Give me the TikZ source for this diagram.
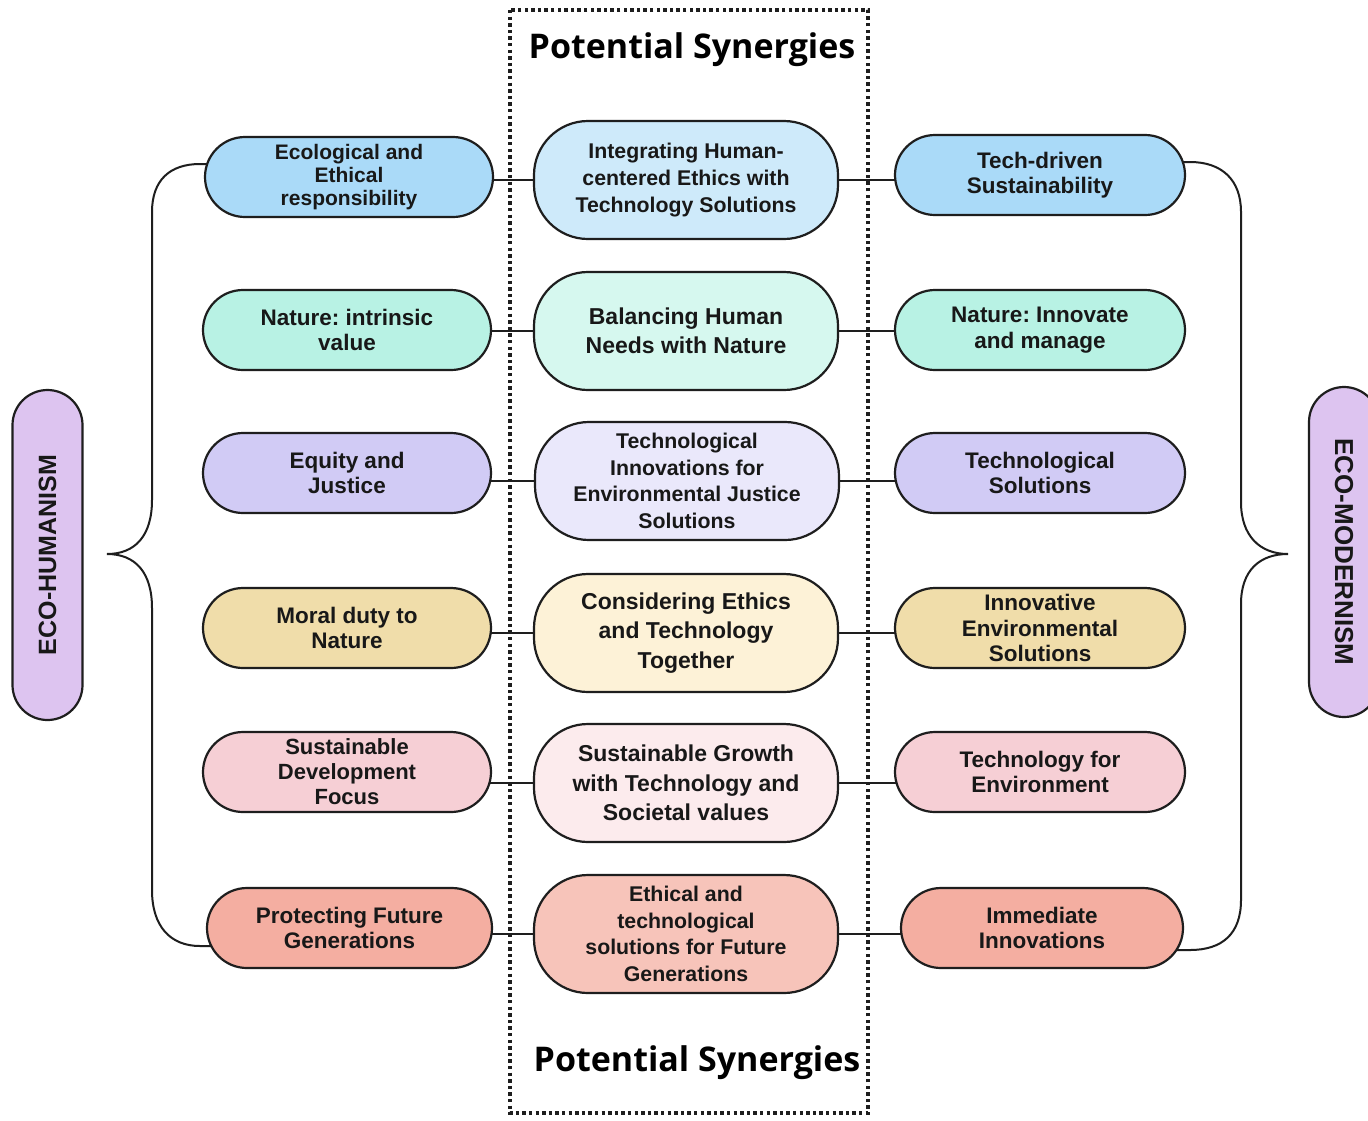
\documentclass[tikz,border=0pt]{standalone}
\usepackage{fontspec}
\setmainfont{Liberation Sans}
\newfontfamily\titlefont{Open Sans}
\usetikzlibrary{calc}
\pgfdeclarelayer{bg}
\pgfsetlayers{bg,main}
\frenchspacing
\definecolor{linec}{RGB}{30,30,30}
\definecolor{txt}{RGB}{24,24,24}
\definecolor{cAs}{RGB}{170,218,248}
\definecolor{cAm}{RGB}{206,234,250}
\definecolor{cBs}{RGB}{184,242,228}
\definecolor{cBm}{RGB}{214,248,239}
\definecolor{cCs}{RGB}{209,203,245}
\definecolor{cCm}{RGB}{234,232,251}
\definecolor{cDs}{RGB}{240,221,170}
\definecolor{cDm}{RGB}{253,242,215}
\definecolor{cEs}{RGB}{246,207,213}
\definecolor{cEm}{RGB}{252,235,237}
\definecolor{cFs}{RGB}{244,174,161}
\definecolor{cFm}{RGB}{247,196,186}
\definecolor{pillc}{RGB}{221,196,240}
\begin{document}
\frenchspacing
\begin{tikzpicture}[x=1pt,y=-1pt,
  side/.style={draw=linec, line width=2.2pt, rounded corners=40pt, minimum width=288pt,
    minimum height=80pt, align=center, text=txt, inner sep=0pt,
    font={\bfseries\fontsize{22.5}{25.5}\selectfont}},
  mid/.style={draw=linec, line width=2.2pt, rounded corners=54pt, minimum width=304pt,
    minimum height=118pt, align=center, text=txt, inner sep=0pt,
    font={\bfseries\fontsize{23}{29.5}\selectfont}},
  midsmall/.style={font={\bfseries\fontsize{21.3}{26.6}\selectfont}},
  pill/.style={draw=linec, line width=2.2pt, fill=pillc, rounded corners=35pt,
    minimum width=330pt, minimum height=70pt, inner sep=0pt, text=txt,
    font={\bfseries\fontsize{25}{28}\selectfont}},
  conn/.style={draw=linec, line width=2pt},
  brace/.style={draw=linec, line width=2pt},
  dotbox/.style={draw=linec, line width=3.4pt, dash pattern=on 3.4pt off 3.2pt},
  title/.style={text=black, inner sep=0pt, font={\titlefont\bfseries\fontsize{34}{40}\selectfont}}
]
\begin{pgfonlayer}{bg}
\fill[white] (0,0) rectangle (1368,1120);
\end{pgfonlayer}

% left column
\node[side, fill=cAs, font={\bfseries\fontsize{21}{23}\selectfont}] (L1) at (349,177) {Ecological and\\Ethical\\responsibility};
\node[side, fill=cBs] (L2) at (347,330) {Nature: intrinsic\\value};
\node[side, fill=cCs] (L3) at (347,473) {Equity and\\Justice};
\node[side, fill=cDs] (L4) at (347,628) {Moral duty to\\Nature};
\node[side, fill=cEs, font={\bfseries\fontsize{22}{25}\selectfont}] (L5) at (347,772) {Sustainable\\Development\\Focus};
\node[side, fill=cFs, minimum width=285pt] (L6) at (349.5,928) {Protecting Future\\Generations};

% middle column
\node[mid, midsmall, fill=cAm] (M1) at (686,180) {Integrating Human-\\centered Ethics with\\Technology Solutions};
\node[mid, fill=cBm] (M2) at (686,331) {Balancing Human\\Needs with Nature};
\node[mid, midsmall, fill=cCm] (M3) at (687,481) {Technological\\Innovations for\\Environmental Justice\\Solutions};
\node[mid, fill=cDm] (M4) at (686,633) {Considering Ethics\\and Technology\\Together};
\node[mid, fill=cEm] (M5) at (686,783) {Sustainable Growth\\with Technology and\\Societal values};
\node[mid, midsmall, fill=cFm] (M6) at (686,934) {Ethical and\\technological\\solutions for Future\\Generations};

% right column
\node[side, fill=cAs, minimum width=290pt] (R1) at (1040,175) {Tech-driven\\Sustainability};
\node[side, fill=cBs, minimum width=290pt] (R2) at (1040,330) {Nature: Innovate\\and manage};
\node[side, fill=cCs, minimum width=290pt] (R3) at (1040,473) {Technological\\Solutions};
\node[side, fill=cDs, minimum width=290pt] (R4) at (1040,628) {Innovative\\Environmental\\Solutions};
\node[side, fill=cEs, minimum width=290pt] (R5) at (1040,772) {Technology for\\Environment};
\node[side, fill=cFs, minimum width=282pt] (R6) at (1042,928) {Immediate\\Innovations};

% side labels
\node[pill, rotate=90] (EH) at (47.5,555) {ECO-HUMANISM};
\begin{scope}
\clip (0,0) rectangle (1368,1120);
\node[pill, rotate=-90, font={\bfseries\fontsize{26}{28}\selectfont}] (EM) at (1344,552) {ECO-MODERNISM};
\end{scope}

% titles
\node[title] (T1) at (692,50) {Potential Synergies};
\node[title] (T2) at (697,1063) {Potential Synergies};

\begin{pgfonlayer}{bg}
\foreach \i in {1,...,6} {
  \draw[conn] (M\i.center) -- (M\i.center -| L\i.center);
  \draw[conn] (M\i.center) -- (M\i.center -| R\i.center);
}
% left brace
\draw[brace] (225,164) -- (200,164) .. controls (170,164) and (152,180) .. (152,212)
  -- (152,500) .. controls (152,536) and (135,554) .. (107,554)
  .. controls (135,554) and (152,572) .. (152,608)
  -- (152,890) .. controls (152,926) and (170,946) .. (200,946) -- (225,946);
% right brace
\draw[brace] (1165,162) -- (1190,162) .. controls (1222,162) and (1241,180) .. (1241,212)
  -- (1241,502) .. controls (1241,536) and (1260,554) .. (1288,554)
  .. controls (1260,554) and (1241,570) .. (1241,604)
  -- (1241,900) .. controls (1241,934) and (1222,950) .. (1190,950) -- (1165,950);
\end{pgfonlayer}

% dotted frame
\draw[dotbox] (510,10) rectangle (868,1113);
\end{tikzpicture}
\end{document}
